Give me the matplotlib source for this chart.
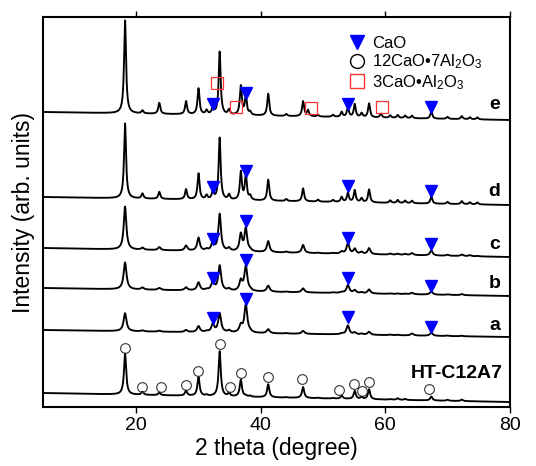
import matplotlib
matplotlib.use('Agg')
import matplotlib.pyplot as plt
from matplotlib.lines import Line2D
import numpy as np

plt.rcParams['font.family'] = ['Liberation Sans', 'DejaVu Sans']
plt.rcParams['mathtext.fontset'] = 'custom'
plt.rcParams['mathtext.rm'] = 'Liberation Sans'
plt.rcParams['mathtext.default'] = 'regular'

# peak positions (2 theta) shared by all patterns
peak_pos = [18.2, 21.0, 23.7, 28.0, 30.0, 31.3, 32.3, 33.4, 34.9, 36.8, 37.6, 38.3,
            41.2, 44.1, 46.8, 47.6, 49.2, 51.6, 53.0, 54.0, 55.1, 56.2, 57.4, 59.3,
            60.8, 62.0, 63.2, 64.3, 67.4, 70.0, 72.3, 73.6, 74.8]

# peak heights per pattern (same order as peak_pos)
h_ht = [41, 3, 2.5, 5, 19, 1, 0, 45, 3, 17, 1, 1, 13, 0.5, 11, 0, 0.5, 0.5, 3, 0,
        8, 2, 10, 0, 0.5, 1.5, 1, 0, 4, 1, 1.5, 0, 0]
h_a = [18, 1, 1, 2, 6, 1, 8, 19, 2, 7, 28, 1, 4, 0.5, 3, 0, 0, 0, 1, 9,
       2, 1, 3, 0, 0.5, 0.5, 0, 2, 3, 0.5, 0.5, 0, 0]
h_b = [27, 2, 2, 3, 8, 1, 9, 25, 2, 10, 25, 1, 6, 0.5, 4, 0, 0, 0.5, 1, 8,
       3, 1, 4, 0, 0.5, 0.5, 0.5, 1.5, 3, 0.5, 1, 0, 0]
h_c = [43, 2, 3, 5, 13, 1.5, 9, 37, 3, 17, 23, 1.5, 11, 1, 8, 0, 0.5, 0.5, 2, 11,
       5, 2, 6, 0, 1, 1, 1, 2, 5, 1, 1.5, 1, 0.5]
h_d = [75, 5, 7, 10, 26, 4, 8, 62, 5, 28, 25, 4, 21, 2, 13, 0, 2, 2, 5, 9,
       12, 4, 13, 0, 2.5, 3, 2.5, 2.5, 7, 2, 3, 2, 2]
h_e = [93, 3, 11, 13, 26, 4, 7, 63, 5, 29, 19, 3, 22, 2, 15, 6, 1.5, 2, 5, 10,
       13, 4, 14, 4, 2.5, 3, 2.5, 2.5, 7, 2, 3, 2, 2]

# background level at 5 deg and 80 deg for each pattern (vertical offsets)
names = ['HT-C12A7', 'a', 'b', 'c', 'd', 'e']
heights = [h_ht, h_a, h_b, h_c, h_d, h_e]
base_left = [14, 77, 119, 159, 210, 295]
base_right = [5, 70, 111, 150, 202, 287]
fwhm = [0.42, 0.55, 0.55, 0.5, 0.38, 0.38]
label_y = [34, 82, 124, 163, 216, 303]

# phase markers
cao_x = [32.3, 37.6, 54.0, 67.4]
cao_y = {'a': [89, 108, 90, 80], 'b': [129, 147, 129, 121], 'c': [168, 186, 169, 163],
         'd': [220, 236, 221, 216], 'e': [303, 314, 303, 300]}
c12a7_x = [18.2, 20.9, 24.0, 28.0, 29.9, 33.5, 35.0, 36.8, 41.1, 46.6, 52.5, 55.0, 56.2, 57.4, 67.0]
c12a7_y = [59, 20, 20, 22, 36, 63, 20, 34, 30, 28, 17, 23, 16, 25, 18]
c3a_x = [33.0, 36.0, 48.0, 59.5]
c3a_y = [324, 300, 299, 300]

tri_color = '#0000ff'
sq_color = '#ff3333'

fig = plt.figure(figsize=(5.36, 4.66), dpi=100)
ax = fig.add_axes([0.080, 0.1266, 0.871, 0.8369])

x = np.linspace(5, 80, 4000)
for name, h, bl, br, w in zip(names, heights, base_left, base_right, fwhm):
    y = bl + (br - bl) * (x - 5) / 75.0
    for p, hp in zip(peak_pos, h):
        if hp > 0:
            y = y + hp / (1 + ((x - p) / (w / 2)) ** 2)
    ax.plot(x, y, color='k', lw=1.35)

for name, ly in zip(names, label_y):
    ax.text(78.5 if name != 'HT-C12A7' else 78.8, ly, name, ha='right', va='center',
            fontsize=14, fontweight='bold')

for k, ys in cao_y.items():
    ax.plot(cao_x, ys, 'v', color=tri_color, ms=9, ls='none')
ax.plot(c12a7_x, c12a7_y, 'o', mfc='none', mec='#333333', mew=0.8, ms=7, ls='none')
ax.plot(c3a_x, c3a_y, 's', mfc='none', mec=sq_color, mew=0.9, ms=8, ls='none')

handles = [Line2D([], [], marker='v', color=tri_color, ls='none', ms=10),
           Line2D([], [], marker='o', mfc='none', mec='k', mew=1, ls='none', ms=10),
           Line2D([], [], marker='s', mfc='none', mec=sq_color, mew=1, ls='none', ms=10)]
labels = ['CaO', '12CaO\u20227Al$_2$O$_3$', '3CaO\u2022Al$_2$O$_3$']
ax.legend(handles, labels, loc='upper right', bbox_to_anchor=(0.975, 0.99), frameon=False,
          fontsize=12, handletextpad=0.15, labelspacing=0.1, handlelength=1.5)

ax.set_xlim(5, 80)
ax.set_ylim(0, 390)
ax.set_xticks([20, 40, 60, 80])
ax.set_yticks([])
ax.tick_params(axis='x', direction='out', length=4, width=1, top=True, labeltop=False,
               labelsize=14)
for s in ax.spines.values():
    s.set_linewidth(1.5)
ax.set_xlabel('2 theta (degree)', fontsize=16.5, labelpad=2)
ax.set_ylabel('Intensity (arb. units)', fontsize=16.5, labelpad=6)

fig.savefig('out.png', dpi=100)
